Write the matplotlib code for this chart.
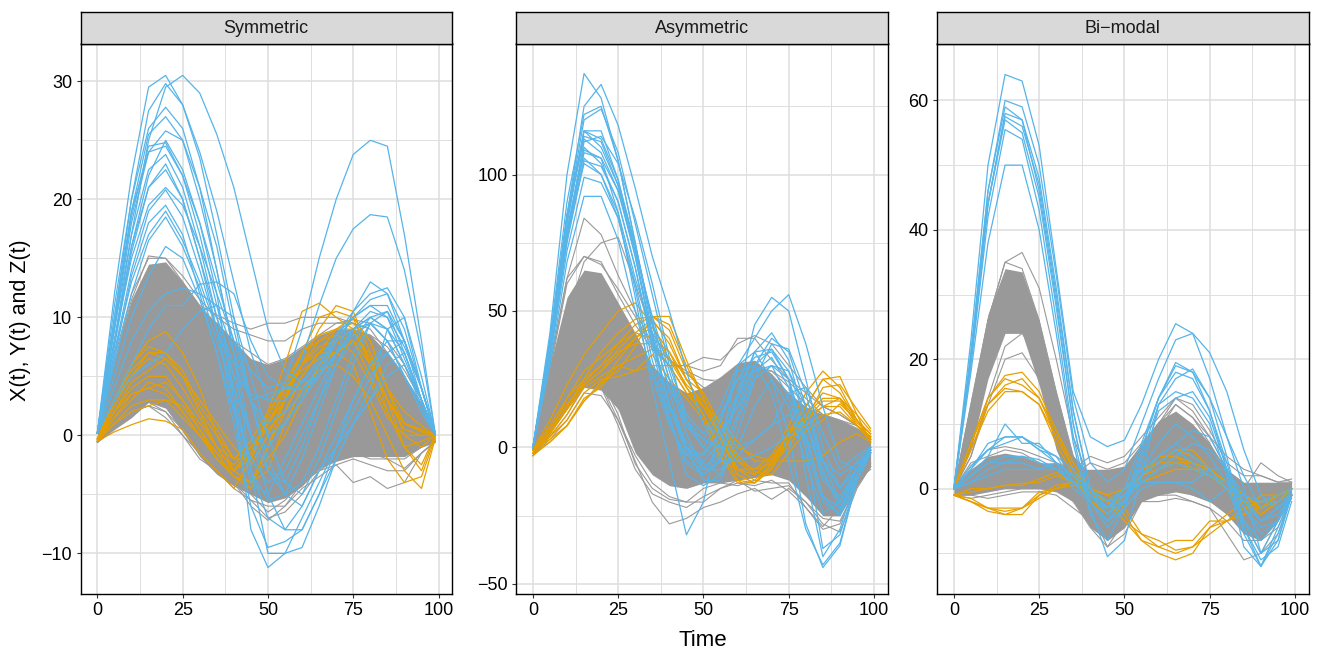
import matplotlib
matplotlib.use("Agg")
import matplotlib.pyplot as plt

plt.rcParams['font.family'] = ['Liberation Sans', 'DejaVu Sans']

# values read at these time points
time_knots = [0, 5, 10, 15, 20, 25, 30, 35, 40, 45, 50, 55, 60, 65, 70, 75, 80, 85, 90, 95, 99]
peak_knots = [0, 5, 10, 15, 20, 25, 30, 35, 40]

panel_names = ["Symmetric", "Asymmetric", "Bi\u2212modal"]

# ---- Symmetric ----
sym_core_upper = [0.3, 6.5, 11.5, 14.5, 14.7, 13, 11, 9.5, 8, 6.5, 6, 6.5, 7.5, 8.5, 9, 9, 8.5, 7, 5, 2.8, 0.3]
sym_core_lower = [-0.6, 0.5, 1.5, 2.8, 2.3, 0.3, -1.8, -3.3, -4.3, -5, -5.7, -5.3, -4.3, -2.8, -2.2, -1.8, -1.8, -1.8, -1.8, -1, -0.6]
sym_gray = [
    [0.3, 6.5, 12, 15, 15, 13.5, 11.5, 10, 9, 8.5, 8, 8, 9, 9.5, 9.5, 9.5, 9, 7, 5, 2.5, 0],
    [0.3, 6, 11.5, 15.2, 15, 13, 11, 10.2, 9.5, 9, 9.5, 9.5, 10, 10, 10, 9.5, 8, 6.5, 4.5, 2.5, 0],
    [-0.6, 0.8, 2, 2.5, 1.5, 0, -1.5, -3, -4, -6, -7.2, -6, -4, -3, -2.5, -4, -3.5, -4.5, -4, -1.5, -0.5],
    [-0.6, 1, 2, 2.5, 2, 0.5, -1.5, -3, -4.5, -5.5, -6, -6, -4.5, -3.5, -2.5, -2, -2.5, -3, -3, -1.5, -0.6],
    [-0.5, 3, 7, 12, 14, 12.5, 10, 8.5, 6.5, 5.5, 4.5, 5, 6, 7.5, 8.5, 9, 8.5, 7.5, 5.5, 3, 0],
    [-0.5, 1.5, 3, 3.2, 2.5, 1, -1, -2.5, -3.5, -5, -6.5, -5.5, -4, -2.5, -2, -1.5, -1.5, -2, -2, -1, -0.5],
    [0.2, 5.5, 10.5, 13.5, 14, 12.5, 10.5, 9.5, 8, 7, 6, 6.5, 7.5, 8.5, 9.5, 9.8, 9.5, 8, 6, 3, 0],
    [-0.5, 1.2, 2.5, 2.8, 2, 0, -2, -3, -4, -5.5, -7, -6.5, -5, -3, -2, -1.5, -2, -2, -2.8, -1.5, -0.5],
]
sym_orange = [
    [-0.5, 0.3, 0.9, 1.4, 1.2, 0.5, -1.5, -3, -4.5, -2, 1, 4, 7, 8.5, 9, 9.5, 8, 4, 0, -1, 0],
    [-0.3, 2, 4, 5, 5, 3, 0.5, -1.5, -3.5, -4, -1, 3, 7, 10, 10.5, 10, 8, 4, 1, 0.3, 0],
    [-0.5, 3, 6, 8, 8.8, 7, 4, 0, -3, -2, 2, 6, 10.5, 11.2, 10, 9, 6, 3, 1, 0.5, 0],
    [-0.3, 3, 5, 7, 6.5, 5, 2, -1, -3, -1.5, 1.5, 4.5, 7, 8, 8.5, 8, 6, 3, 1, 0.3, 0],
    [-0.5, 1.5, 3, 4.5, 4, 2, 0, -2, -3.5, -4.5, -1, 2, 5, 7, 9, 10, 6, 3, -1, -3, 0],
    [-0.3, 1, 2.5, 3, 3, 1.5, 0, -1.5, -2.5, -1, 1, 3, 6, 9, 11, 10.5, 7, 2, -1, -2.5, 0],
    [-0.5, 2.5, 5, 6.5, 6, 4, 1.5, -1, -3, -4, -2, 0, 3, 6, 7, 6, 2, -2, -4, -3.5, -0.2],
    [-0.3, 3, 6, 7.5, 7, 5, 2, 0, -2, -1, 0.5, 2, 5, 7, 8, 7, 4.5, 1.5, 0, 0, 0],
    [-0.5, 2, 4.5, 5.5, 6.5, 5, 3, 1, -1, -2.5, 0, 3, 6, 8, 9, 9, 6, 3, 0.5, 0, 0],
    [-0.3, 1.5, 3.5, 4, 4.5, 3, 1, -1, -2, -0.5, 2, 4, 5.5, 6.5, 7, 8, 5, 2, -1, -0.5, 0],
    [-0.5, 3, 5.5, 7, 7, 5.5, 2.5, 0.5, -2, -2, 1, 3, 6, 7.5, 8, 9, 6.5, 3, 1, 0.5, 0],
    [-0.3, 2, 3.5, 4, 3.5, 2, 0, -2, -3, -1, 1, 3.5, 6, 7, 7, 8, 7, 4, 2, 0.8, 0],
    [-0.5, 1, 2, 2.5, 3, 2.5, 0.5, -2, -3.5, -4, -3, 1, 4, 5.5, 6, 5, 3, 0, -3, -4.5, -0.3],
]
sym_blue = [
    [0.2, 12, 22, 29.5, 30.5, 28, 23.5, 17, 10, 3, -3, -5, -4, -1, 3, 7, 9.5, 9, 6, 2.5, 0.1],
    [0.2, 8, 17, 25, 29.5, 30.5, 29, 25.5, 21, 15, 9, 5.5, 4.5, 5, 7, 9, 10.5, 10, 7.5, 4, 0.1],
    [0.2, 10, 20, 27.5, 29.8, 28, 24, 19, 13, 7, 3, 3, 4.5, 6.5, 8.5, 10, 11.5, 12, 9, 4, 0.2],
    [0.2, 11, 20, 26, 27.8, 26, 21, 14, 7, 0, -5, -8, -8, -5, -1, 3, 6, 7, 5, 2.5, 0.1],
    [0.2, 9, 19, 25.5, 27, 25, 20, 14, 7, -3, -10, -10, -9.5, -6, -2, 1, 3, 5, 6, 3, 0.1],
    [0.2, 10, 19, 24, 24.5, 22, 18, 12, 3, -8, -11.2, -10, -7, -4, -1, 1, 3, 6, 7, 3, 0.2],
    [0.2, 9, 17, 22.5, 23.8, 21, 16, 10, 4, -3, -7, -8, -6, -3, 0, 3, 6, 8, 8, 4, 0.1],
    [0.2, 8, 16, 21, 23, 20, 15, 10, 6, 3, 3.5, 4, 4.5, 6, 8.5, 10.5, 12, 12.5, 10, 5, 0.2],
    [0.2, 7, 14, 19, 20.8, 18.5, 14, 9, 3, -3, -5.5, -5, -2, 2, 6, 9, 10, 9, 7, 3, 0.1],
    [0.2, 8, 15, 19.5, 21, 19.5, 16, 12, 8, 5.5, 4, 4.5, 9, 15, 20, 23.8, 25, 24.5, 17, 8, 0.2],
    [0.2, 7, 13, 17, 19, 16.5, 13, 9, 5, 3.5, 3, 4, 6.5, 11, 15, 17.5, 18.7, 18.5, 14, 7, 0.2],
    [0.2, 6, 12, 16.5, 18.5, 16, 12.5, 8, 4, 0, -3, -4, -1, 3, 7, 10.5, 13, 12, 8, 4, 0.2],
    [0.2, 5, 10, 13.5, 16, 15, 11.5, 7, 1, -6, -9.5, -9, -8, -5, -2, 1, 4, 9, 10, 4, 0.2],
    [0.2, 4, 8, 10.5, 12, 12.5, 12, 11, 7, 3, -2, -5, -6, -3, -1, 2, 5, 7, 8, 4, 0.1],
    [0.2, 3, 5, 6, 7, 9, 10.5, 11, 10, 5, 0, -4, -5, -2, 2, 6, 9.5, 10.5, 8, 4, 0.1],
    [0.2, 8, 16, 22, 25, 22.5, 18, 13, 8, 3, 0, 1, 3, 5.5, 8, 10, 11, 11, 8, 3, 0.1],
    [0.2, 9, 18, 24, 25.8, 25, 21, 16, 9, 3, 1, 2, 3.5, 6, 8, 9, 10, 9, 6, 3, 0.1],
    [0.2, 3, 6, 9, 11, 11, 12.8, 13, 12, 8, 5, 4, 4, 5, 7, 8.5, 9.5, 8, 5, 2, 0.1],
    [0.2, 7.5, 15.5, 21, 22.5, 20, 15, 9, 2, -4, -5, -2, 1, 4, 7, 9, 9.5, 8, 5, 2, 0.1],
    [0.2, 6.5, 13.5, 18, 19.5, 17, 12, 7, 2, -2, -4, -3, 0, 3, 6, 8, 10, 10.5, 7, 3, 0.1],
    [0.2, 9.5, 18.5, 24.5, 24.8, 22, 17, 11, 5, 0, -1, 1, 3, 5, 8, 10, 11, 10, 6.5, 3, 0.1],
]

# ---- Asymmetric ----
asym_core_upper = [0, 30, 55, 65, 64, 53, 42, 30, 24, 20, 22, 26, 31, 32, 27, 20, 15, 12, 10, 7, 4]
asym_core_lower = [-3, 5, 14, 22, 21, 14, -2, -10, -14, -15, -13, -13, -12, -11, -10, -12, -18, -25, -25, -14, -7]
asym_gray = [
    [-1, 30, 62, 84, 78, 63, 50, 38, 32, 27, 22, 20, 25, 28, 28, 24, 18, 12, 10, 8, 4],
    [-1, 22, 48, 68, 75, 77, 60, 42, 32, 28, 25, 24, 26, 30, 28, 22, 16, 12, 10, 7, 3],
    [-1, 28, 60, 70, 68, 56, 45, 36, 30, 30, 33, 32, 38, 41, 38, 30, 22, 15, 12, 8, 4],
    [-1, 30, 62, 70, 67, 58, 48, 37, 30, 30, 28, 30, 40, 40, 32, 25, 20, 15, 12, 8, 4],
    [-3, 3, 10, 20, 19, 10, -5, -20, -28, -26, -22, -20, -17, -15, -19, -15, -20, -28, -31, -15, -7],
    [-3, 4, 12, 22, 22, 8, -8, -17, -20, -22, -18, -15, -13, -14, -12, -16, -22, -30, -28, -14, -6],
    [-3, 5, 15, 24, 23, 10, -3, -13, -18, -20, -20, -15, -12, -16, -15, -14, -20, -26, -27, -14, -7],
    [-2, 6, 18, 28, 25, 12, -6, -15, -19, -20, -15, -13, -14, -12, -13, -13, -22, -29, -22, -12, -8],
]
asym_orange = [
    [-1, 10, 23, 34, 42, 50, 53, 45, 32, 22, 15, 5, -5, -8, -3, 8, 20, 28, 22, 10, 3],
    [-2, 5, 15, 25, 35, 42, 47, 48, 45, 30, 18, 5, -8, -12, -6, 5, 15, 25, 20, 10, 5],
    [-1, 5, 18, 28, 33, 38, 42, 47, 38, 25, 15, 5, -10, -13, -8, 2, 12, 20, 18, 10, 3],
    [-2, 2, 8, 17, 23, 32, 40, 46, 40, 25, 15, 3, -8, -10, -5, 5, 12, 18, 18, 8, 3],
    [-3, 2, 8, 18, 22, 30, 28, 34, 25, 18, 10, -5, -8, -8, -6, 0, 10, 15, 15, 8, 2],
    [-1, 8, 18, 25, 30, 35, 38, 38, 30, 20, 15, 10, 2, -5, -5, 3, 8, 12, 13, 8, 4],
    [-2, 4, 12, 23, 28, 34, 40, 44, 35, 22, 12, 0, -12, -13, -6, 3, 10, 17, 17, 9, 5],
    [-1, 3, 8, 17, 24, 28, 37, 48, 48, 32, 18, 3, -10, -13, -8, 3, 10, 15, 18, 12, 2],
    [-1, 6, 14, 22, 26, 30, 33, 36, 33, 23, 17, 8, 0, -3, -5, -5, -5, -3, 2, 5, 2],
    [-2, 7, 16, 23, 28, 36, 42, 40, 35, 25, 20, 8, -3, -9, -10, -2, 6, 10, 16, 10, 5],
    [-1, 4, 10, 20, 25, 26, 28, 30, 30, 20, 12, -3, -13, -13, -7, 6, 15, 25, 26, 12, 6],
    [-2, 5, 14, 24, 30, 38, 45, 48, 43, 28, 20, 8, -5, -10, -4, 5, 10, 22, 23, 14, 7],
]
asym_blue = [
    [0, 42, 100, 137, 128, 105, 75, 45, 20, 0, -6, -10, 0, 15, 25, 15, -5, -24, -20, -8, 0],
    [0, 35, 85, 125, 133, 118, 95, 70, 50, 28, 8, 5, 15, 30, 40, 35, 15, -5, -15, -8, 0],
    [0, 40, 90, 122, 125, 105, 75, 42, 15, -2, -10, -5, 20, 45, 55, 50, 25, 0, -15, -8, -1],
    [0, 38, 85, 120, 124, 108, 82, 56, 30, 12, 5, 15, 30, 40, 50, 56, 38, 15, -5, -8, -1],
    [0, 38, 85, 116, 116, 98, 72, 40, 15, 0, -12, -12, 5, 25, 38, 36, 20, -5, -20, -10, -2],
    [0, 35, 78, 112, 114, 104, 84, 60, 33, 10, 0, 10, 25, 33, 35, 25, 5, -18, -25, -12, -2],
    [0, 35, 78, 108, 106, 86, 55, 22, -5, -32, -20, 10, 28, 30, 20, -5, -30, -43, -35, -12, -2],
    [0, 33, 75, 105, 103, 90, 66, 38, 15, 0, -3, 5, 15, 25, 30, 25, 0, -37, -32, -12, -2],
    [0, 32, 72, 99, 97, 84, 58, 28, 10, -5, -8, 0, 30, 35, 25, 5, -28, -44, -36, -12, -2],
    [0, 30, 68, 92, 92, 76, 50, 26, 8, -3, -2, 5, 20, 35, 36, 25, -10, -40, -30, -10, -2],
    [0, 35, 78, 104, 100, 86, 62, 42, 22, 8, 0, -5, -5, -3, 0, 5, 3, -5, -15, -5, 0],
    [0, 36, 82, 116, 113, 98, 74, 46, 25, 10, 3, 0, 0, 3, 8, 12, 8, -5, -10, -6, -1],
    [0, 37, 85, 113, 108, 94, 70, 40, 15, 0, -8, -3, 18, 35, 42, 32, 10, -10, -20, -8, -1],
    [0, 34, 78, 109, 106, 94, 72, 48, 28, 8, 3, 12, 25, 28, 30, 28, 15, -8, -23, -10, -1],
    [0, 35, 80, 110, 104, 90, 66, 36, 12, -10, -14, -10, 10, 25, 30, 18, 0, -20, -24, -10, -1],
    [0, 36, 82, 116, 110, 96, 74, 46, 25, 5, -8, -8, -3, 3, 8, 20, 22, 5, -8, -3, 0],
    [0, 33, 76, 106, 100, 84, 60, 32, 10, -6, -10, -4, 12, 28, 33, 22, 3, -18, -22, -10, -1],
    [0, 37, 84, 114, 112, 96, 70, 40, 16, 2, -5, 2, 18, 30, 36, 28, 10, -12, -18, -8, -1],
]

# ---- Bi-modal ----
bi_peak_upper = [0.5, 14, 27, 34, 33.5, 26, 15, 5, 2]
bi_peak_lower = [0, 6, 17, 24, 24, 16, 6, 0, -1]
bi_core_upper = [0.5, 3, 5, 5.5, 5, 4, 4, 3, 3, 3, 3.5, 7, 10.5, 12, 10, 7, 3, 1, 1, 1, 1]
bi_core_lower = [-1, -1, -0.5, 0, 0, 0, -0.5, -2, -6, -8, -6, -2, -1, -0.5, -1, -2, -4, -7, -8, -5, -1.5]
bi_gray = [
    [0, 13, 26, 35, 36.5, 31, 20, 8, 1, -3, 0, 4, 9, 13, 11, 7, 2, 0, 4, 2, 1],
    [0, 12, 26, 35, 34, 26, 15, 5, 2, 1, 3, 6, 10, 14, 12, 8, 3, -2, -8, -6, -1],
    [0, 5, 13, 20, 21, 17, 9, 1, -3, -9, -5, 0, 7, 10, 9, 5, 0, -5, -10, -7, -1],
    [0, 5, 14, 22, 24, 20, 10, 1, -4, -7, -6, -1, -1, -1, -2, -3, -5, -8, -8, -4, -1],
    [-1, -1.5, -1, -0.5, 0, 0, 0, -2, -6, -9, -7, -2, -2, -1.5, -2, -3, -7, -11, -10, -5, -1],
    [0, 3.5, 6, 6.5, 6, 5, 4, 3, 5, 4, 5, 8, 11, 14, 13, 9, 4, 2, 2, 1, 1.5],
    [-1, -1, -1.5, -1, -0.5, -0.5, -1, -3, -5, -8, -6, -1, -1, 0, -1, -2, -3, -5, -7, -3, 0],
    [0, 4, 5, 6, 5.5, 4, 3, 2, 4, 3, 4, 7, 10, 13, 11, 8, 5, 3, 2, 1, 1],
]
bi_orange = [
    [0, 7, 14, 17.5, 18, 15, 9, 4, 0, -2, 0, 2, 4, 6, 5, 3, 0, -2, -4, -2, 0],
    [0, 6, 13, 16, 17, 14, 8, 3, -1, -3, -1, 1, 3, 5, 4, 2, 0, -3, -3, -2, 0],
    [0, 7, 13, 15.5, 15, 13, 8, 3, -2, -3, -1, 2, 4, 6, 6, 3, 0, -1, -2, -1, 0],
    [0, 6, 12, 15, 15, 13, 7, 2, -2, -4, -1, 2, 5, 5, 3, 2, 0, -2, -4, -2, 0],
    [0, 7, 14, 17, 16, 14, 9, 3, 0, -2, 0, 3, 4, 4, 4, 3, 1, -1, -3, -2, 0],
    [-1, 0, 0, 0.5, 0.8, 1, 2, 1, -1, -3, -1, 2, 3, 4, 3, 2, 1, -1, -3, -1, 0],
    [-1, -0.5, 0, 0.5, 0.5, 1.5, 2.5, 1, 0, -1, 0, 1, 2, 3, 3, 3, 1, -2, -3, -2, 0],
    [-1, -2, -3, -4, -3, -1, 0, 1, 0, -1, -3, -7, -9, -10, -9, -7, -5, -4, -3, -1, 0],
    [-1, -2, -3.5, -4, -4, -1, 0.5, 1, -1, -2, -4, -8, -10, -11, -10, -6, -5, -3, -2, -1, 0],
    [-1, -1.5, -3, -3, -3, -1.5, 0, 0.5, -0.5, -2, -5, -8, -9, -8, -8, -5, -5, -4, -1, -1, 0],
    [-1, -2, -3, -3.5, -3, -0.5, 0, 1, 0, -2, -5, -7, -8, -9.5, -9, -6, -4, -2, -2, -1, 0],
]
bi_blue = [
    [0, 23, 50, 64, 63, 53, 34, 15, 8, 6.5, 7.5, 13, 20, 25.5, 24, 17, 8, 2, -3, -2, -1],
    [0, 21, 46, 60, 59, 50, 33, 14, 4, 1, 3, 10, 17, 23, 24, 21, 15, 6, -1, -3, -1],
    [0, 21, 46, 59, 57, 48, 31, 12, 0, -3, 0, 7, 14, 19, 18, 14, 8, 0, -10, -8, -1],
    [0, 20, 44, 58, 57, 46, 29, 10, -2, -5, -2, 6, 14, 19.5, 18, 12, 3, -6, -12, -8, -1],
    [0, 20, 44, 57, 55, 45, 28, 10, -2, -6, -3, 5, 13, 17, 18.5, 14, 5, -6, -11, -9, -2],
    [0, 19, 42, 55.5, 54, 43, 26, 8, -3, -10.5, -8, 2, 13, 15, 14, 10, 2, -9, -12, -6, -1],
    [0, 18, 38, 50, 50, 40, 24, 7, -4, -8, -3, 4, 12, 14, 15, 11, 3, -7, -12, -7, -1],
    [0, 20, 44, 57.5, 56, 47, 30, 12, 0, -4, -2, 6, 14, 18, 17, 12, 4, -5, -10, -5, -1],
    [0, 3, 7, 8, 8, 6, 4, 2, -1, -4, -1, 3, 7, 10, 8, 5, 1, -2, -5, -3, -1],
    [0, 3.5, 6, 8, 8, 6, 5, 3, -1, -3, 0, 3, 5, 7, 9, 8, 3, -1, -5, -4, -1],
    [0, 2, 5, 10, 7, 7, 4, 2, 0, -3, -2, 1, 3, 5, 7, 6, 3, -3, -7, -5, 0],
    [0, 3, 6, 7, 8, 6.5, 5, 1, -2, -5, -3, 0, 1, 1, 0, -2, 0, -1, -2, -1, 0],
    [0, 2, 4, 5, 5, 4.5, 3, 1, 0, -2, 0, 1, 3, 4, 3, 2, 0, -1, -2, -2, 0],
    [0, 2, 4, 4, 4, 3, 4, 0, -2, -5, -2, 2, 5, 7, 5, 3, 0, -5, -8, -5, -1],
    [0, 1, 2, 3, 3, 3, 3, 1, -1, -3, -1, 1, 1, 1, 1, 3, 3, -2, -5, -3, -1],
    [0, 1, 3, 4, 5, 4, 3, 2, 0, -2, -1, 2, 4, 6, 4, 2, 1, -3, -6, -5, 0],
]

x_ticks = [0, 25, 50, 75, 100]
x_minor = [12.5, 37.5, 62.5, 87.5]
y_ticks = [[-10, 0, 10, 20, 30], [-50, 0, 50, 100], [0, 20, 40, 60]]
y_minor = [[-5, 5, 15, 25], [-25, 25, 75, 125], [-10, 10, 30, 50]]
y_limits = [(-13.4, 33.2), (-53.5, 148), (-16.2, 68.8)]

GRAY, ORANGE, BLUE = '#999999', '#E69F00', '#56B4E9'
W, H = 1322, 655
panel_left = [80.5, 516, 937]
panel_width = 371.5
panel_top, panel_bottom = 43.5, 593.5
strip_top = 12

fig = plt.figure(figsize=(W / 100, H / 100), dpi=100)

# (x, lower, upper) for the solid parts of the gray bundles
bands = [
    [(time_knots, sym_core_lower, sym_core_upper)],
    [(time_knots, asym_core_lower, asym_core_upper)],
    [(peak_knots, bi_peak_lower, bi_peak_upper), (time_knots, bi_core_lower, bi_core_upper)],
]
gray_lines = [sym_gray, asym_gray, bi_gray]
orange_lines = [sym_orange, asym_orange, bi_orange]
blue_lines = [sym_blue, asym_blue, bi_blue]

for i, name in enumerate(panel_names):
    ax = fig.add_axes([panel_left[i] / W, 1 - panel_bottom / H, panel_width / W, (panel_bottom - panel_top) / H])
    ax.set_xlim(-4.95, 103.95)
    ax.set_ylim(*y_limits[i])
    ax.set_xticks(x_ticks)
    ax.set_yticks(y_ticks[i])
    ax.set_xticks(x_minor, minor=True)
    ax.set_yticks(y_minor[i], minor=True)
    ax.grid(True, which='major', color='#DEDEDE', lw=1.1)
    ax.grid(True, which='minor', color='#DEDEDE', lw=0.7)
    ax.set_axisbelow(True)
    ax.tick_params(which='minor', length=0)
    ax.tick_params(which='major', length=3, width=0.8, color='#333333', labelsize=13, labelcolor='black', pad=3)
    for sp in ax.spines.values():
        sp.set_linewidth(1.0)

    for xs, lo, up in bands[i]:
        ax.fill_between(xs, lo, up, color=GRAY, lw=0)
    for row in gray_lines[i]:
        ax.plot(time_knots, row, color=GRAY, lw=0.8)
    for row in orange_lines[i]:
        ax.plot(time_knots, row, color=ORANGE, lw=0.9)
    for row in blue_lines[i]:
        ax.plot(time_knots, row, color=BLUE, lw=0.9)

    # facet strip
    st = fig.add_axes([panel_left[i] / W, 1 - panel_top / H, panel_width / W, (panel_top - strip_top) / H])
    st.set_facecolor('#D9D9D9')
    st.set_xticks([])
    st.set_yticks([])
    for sp in st.spines.values():
        sp.set_linewidth(1.0)
    st.text(0.5, 0.48, name, transform=st.transAxes, ha='center', va='center', fontsize=13, color='#1A1A1A')

fig.text(21 / W, 1 - 320 / H, "X(t), Y(t) and Z(t)", rotation=90, ha='center', va='center', fontsize=15.5)
fig.text(703 / W, 1 - 641 / H, "Time", ha='center', va='center', fontsize=16)

fig.savefig('out.png', dpi=100)
